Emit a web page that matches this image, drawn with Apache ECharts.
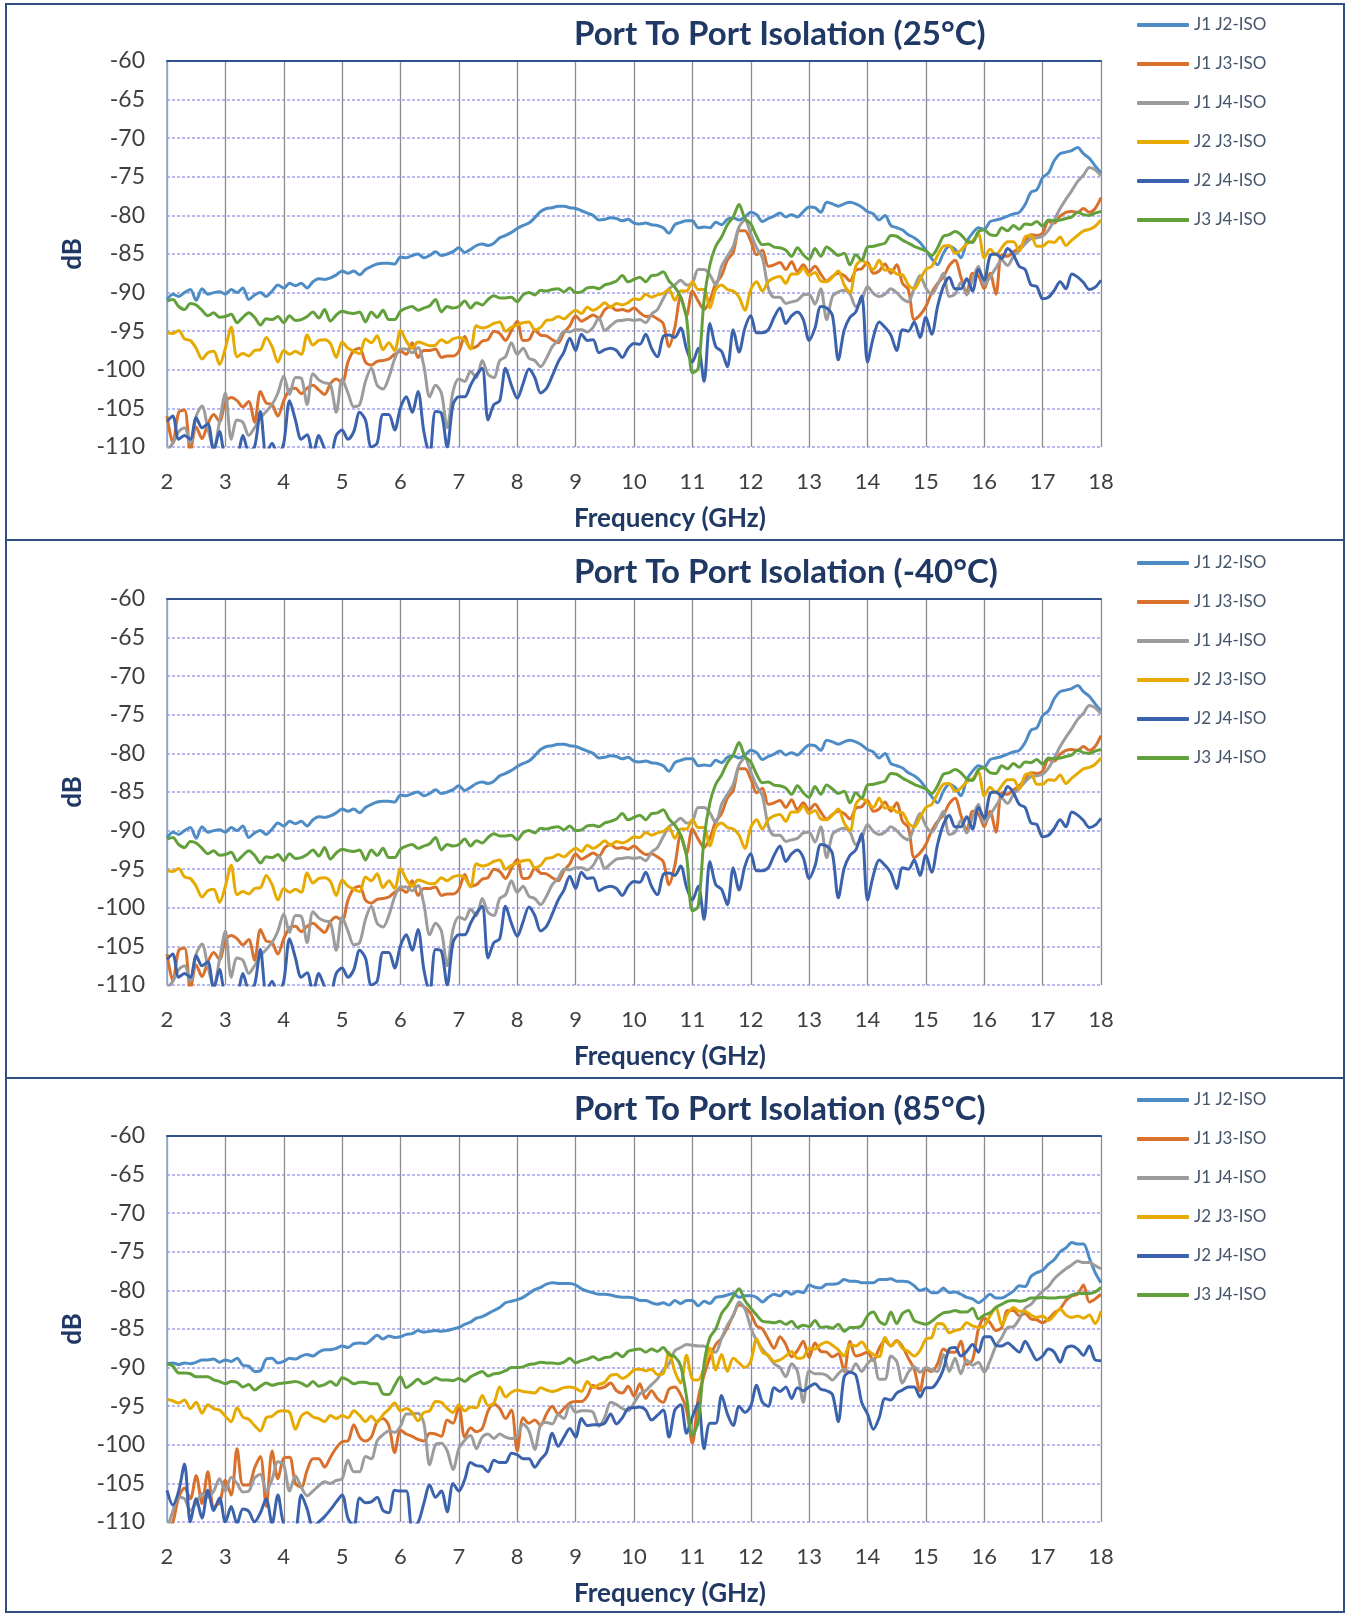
<!DOCTYPE html>
<html>
<head>
<meta charset="utf-8">
<title>Port To Port Isolation</title>
<script src="https://cdn.jsdelivr.net/npm/echarts@6/dist/echarts.min.js"></script>
<style>
  html, body { margin: 0; padding: 0; background: #ffffff; }
  #chart { width: 1345px; height: 1614px; }
</style>
</head>
<body>
<div id="chart"></div>
<script>
// frequency sweep 2 - 18 GHz, one reading every 0.1 GHz (161 points per trace)
const freqStart = 2;
const freqStep = 0.1;

const xTicks = [2, 3, 4, 5, 6, 7, 8, 9, 10, 11, 12, 13, 14, 15, 16, 17, 18];
const yTicks = [-110, -105, -100, -95, -90, -85, -80, -75, -70, -65, -60];

const seriesNames = ['J1 J2-ISO', 'J1 J3-ISO', 'J1 J4-ISO', 'J2 J3-ISO', 'J2 J4-ISO', 'J3 J4-ISO'];
const panelTitles = [
    'Port To Port Isolation (25°C)',
    'Port To Port Isolation (-40°C)',
    'Port To Port Isolation (85°C)'
];

// ---- 25°C ----
const j1j2_25 = [
    -90.9,-90.2,-90.5,-90.0,-89.6,-91.0,-89.5,-90.2,-90.0,-89.9,
    -90.2,-89.6,-90.0,-89.4,-90.9,-90.3,-90.0,-90.5,-89.8,-89.0,
    -89.4,-88.8,-89.1,-88.8,-89.4,-88.6,-88.2,-88.3,-88.1,-87.7,
    -87.2,-87.5,-87.2,-87.7,-87.0,-86.6,-86.3,-86.2,-86.2,-86.3,
    -85.4,-85.5,-85.2,-85.0,-85.5,-85.2,-84.7,-85.2,-85.0,-84.7,
    -84.2,-84.8,-84.4,-83.9,-83.7,-83.9,-83.6,-82.9,-82.6,-82.2,
    -81.7,-81.3,-81.0,-80.3,-79.5,-79.1,-79.0,-78.8,-78.8,-79.0,
    -79.1,-79.4,-79.7,-80.0,-80.6,-80.5,-80.3,-80.4,-80.7,-80.5,
    -81.0,-81.1,-81.0,-81.2,-81.3,-81.6,-82.3,-81.2,-80.9,-80.7,
    -80.7,-81.6,-81.5,-81.6,-80.9,-81.2,-80.5,-80.3,-80.6,-80.2,
    -79.6,-79.9,-80.8,-80.4,-80.1,-79.7,-80.2,-79.9,-80.2,-79.5,
    -78.9,-79.0,-79.6,-78.3,-78.5,-78.8,-78.5,-78.3,-78.5,-78.9,
    -79.5,-79.8,-80.6,-80.0,-81.3,-81.6,-81.9,-82.5,-82.9,-83.5,
    -84.5,-85.6,-86.4,-84.9,-84.0,-84.4,-85.5,-83.4,-82.3,-81.6,
    -81.8,-80.8,-80.6,-80.4,-80.1,-79.8,-79.6,-78.6,-77.0,-76.7,
    -75.1,-74.5,-72.9,-72.0,-71.8,-71.6,-71.2,-72.0,-72.6,-73.6,
    -74.5
];
const j1j3_25 = [
    -106.0,-109.5,-105.5,-105.2,-110.5,-107.4,-108.9,-107.0,-105.8,-106.7,
    -104.2,-103.6,-104.0,-104.8,-104.1,-106.8,-102.8,-104.3,-104.5,-106.0,
    -104.0,-102.6,-102.4,-103.1,-102.4,-102.0,-102.6,-103.2,-101.8,-101.2,
    -101.7,-99.0,-97.5,-97.2,-99.0,-99.4,-98.9,-98.8,-98.6,-98.0,
    -97.6,-98.0,-96.5,-98.4,-97.5,-97.5,-97.3,-98.4,-98.2,-98.2,
    -97.6,-95.7,-97.2,-97.0,-96.3,-96.1,-95.0,-95.3,-96.2,-94.9,
    -93.7,-96.2,-96.1,-94.9,-95.5,-95.6,-96.1,-96.5,-95.2,-94.3,
    -93.0,-93.7,-93.3,-92.9,-93.3,-92.2,-91.8,-92.3,-92.2,-92.4,
    -92.0,-92.6,-93.1,-93.0,-93.4,-94.0,-97.0,-94.5,-90.5,-93.0,
    -89.8,-91.1,-92.2,-91.0,-88.8,-87.8,-85.8,-84.8,-82.0,-82.0,
    -83.3,-85.1,-84.5,-86.6,-86.4,-86.1,-87.0,-86.0,-87.3,-86.4,
    -87.3,-86.6,-87.6,-88.5,-87.9,-87.5,-87.8,-88.5,-87.1,-86.9,
    -86.1,-87.5,-87.2,-86.3,-87.5,-86.4,-88.8,-89.6,-93.5,-92.9,
    -91.8,-90.0,-88.8,-88.0,-86.5,-85.8,-88.0,-90.0,-87.5,-87.8,
    -89.5,-87.5,-90.2,-85.1,-85.3,-84.7,-84.2,-83.3,-82.5,-82.6,
    -82.3,-80.8,-81.0,-80.1,-79.6,-79.5,-79.6,-79.1,-79.6,-79.1,
    -77.7
];
const j1j4_25 = [
    -110.5,-109.5,-108.0,-107.5,-109.5,-106.0,-104.7,-107.6,-110.2,-106.7,
    -103.0,-109.0,-106.5,-106.8,-108.5,-107.5,-106.2,-105.4,-104.5,-103.0,
    -100.8,-103.2,-101.0,-101.1,-104.5,-100.5,-101.3,-101.7,-101.9,-105.5,
    -101.2,-103.0,-104.8,-104.5,-101.5,-99.8,-102.0,-102.5,-101.0,-98.6,
    -97.3,-97.3,-97.8,-97.1,-99.5,-103.5,-102.0,-103.0,-107.5,-102.8,
    -101.2,-101.5,-100.2,-101.0,-98.8,-100.6,-101.0,-98.8,-98.3,-96.5,
    -98.0,-97.2,-98.5,-98.8,-99.6,-98.5,-97.0,-96.2,-95.0,-95.1,
    -94.8,-94.8,-95.1,-94.5,-93.3,-94.9,-94.3,-93.7,-93.6,-93.5,
    -93.6,-93.5,-93.9,-92.8,-92.2,-90.8,-89.5,-89.0,-88.4,-89.0,
    -88.8,-87.0,-87.0,-87.7,-89.0,-86.6,-85.3,-84.0,-81.5,-80.6,
    -82.4,-84.2,-85.5,-89.4,-90.6,-90.6,-91.4,-91.2,-91.0,-90.3,
    -90.2,-91.5,-89.5,-93.5,-90.5,-89.9,-89.7,-90.2,-91.8,-91.0,
    -89.2,-90.1,-90.5,-90.2,-89.5,-90.0,-90.8,-91.2,-89.4,-87.8,
    -89.4,-90.2,-89.0,-87.5,-90.5,-90.2,-88.7,-90.3,-88.3,-86.6,
    -89.0,-88.0,-86.8,-85.8,-86.5,-85.3,-84.5,-83.7,-83.0,-82.9,
    -82.7,-81.9,-80.6,-79.1,-77.9,-76.8,-75.6,-74.8,-73.8,-74.1,
    -74.9
];
const j2j3_25 = [
    -95.2,-95.3,-94.9,-96.0,-96.2,-97.2,-98.6,-97.8,-97.6,-99.3,
    -97.2,-94.5,-98.3,-97.9,-98.2,-97.5,-97.4,-95.8,-97.0,-99.0,
    -97.5,-98.0,-97.6,-98.0,-95.5,-96.8,-96.2,-96.1,-96.6,-98.4,
    -96.4,-97.2,-97.6,-97.9,-96.0,-96.5,-95.6,-97.4,-96.5,-97.5,
    -94.9,-96.3,-97.2,-96.4,-96.6,-96.9,-96.8,-96.1,-96.5,-96.0,
    -95.8,-96.1,-97.3,-94.3,-94.6,-94.4,-94.0,-93.8,-95.0,-94.5,
    -94.2,-93.9,-93.8,-94.8,-94.5,-93.6,-93.5,-93.1,-93.4,-92.8,
    -92.3,-92.7,-91.9,-92.3,-91.9,-91.3,-91.9,-91.4,-91.6,-91.3,
    -90.8,-90.9,-90.2,-90.6,-90.3,-90.1,-89.6,-91.0,-89.8,-89.8,
    -88.6,-89.6,-89.6,-92.0,-89.6,-89.0,-89.6,-89.8,-90.6,-92.3,
    -89.6,-88.6,-89.8,-88.6,-88.1,-87.9,-88.8,-87.6,-87.6,-86.8,
    -87.8,-87.4,-88.5,-88.6,-88.0,-87.2,-89.0,-90.0,-86.6,-85.8,
    -86.4,-87.0,-85.8,-87.1,-87.0,-87.6,-87.7,-89.0,-89.5,-88.3,
    -87.0,-86.6,-85.2,-84.0,-83.9,-84.9,-84.5,-83.7,-83.3,-82.4,
    -85.5,-84.4,-85.1,-84.2,-83.4,-83.4,-84.6,-82.8,-82.6,-84.0,
    -84.0,-83.4,-83.5,-82.8,-83.9,-83.2,-82.6,-82.0,-81.8,-81.4,
    -80.6
];
const j2j4_25 = [
    -106.7,-106.0,-109.0,-108.5,-109.0,-106.2,-107.5,-107.0,-110.5,-108.0,
    -111.0,-110.5,-111.0,-108.5,-110.5,-110.0,-105.4,-111.0,-109.5,-111.0,
    -109.5,-104.0,-106.5,-109.0,-108.4,-111.0,-108.5,-110.2,-111.0,-108.5,
    -107.8,-109.0,-108.0,-105.5,-106.5,-110.0,-109.5,-105.8,-105.8,-107.8,
    -104.9,-103.5,-105.5,-102.8,-108.0,-111.0,-105.4,-105.6,-110.0,-104.5,
    -103.5,-103.5,-102.0,-100.7,-99.8,-106.5,-104.5,-104.0,-99.8,-102.0,
    -103.7,-101.8,-99.9,-101.0,-103.0,-102.4,-100.8,-99.0,-97.7,-95.9,
    -97.5,-95.4,-96.2,-96.1,-97.8,-97.4,-97.2,-97.5,-98.4,-97.2,
    -96.6,-96.7,-95.4,-97.2,-98.3,-95.7,-95.5,-95.8,-94.6,-97.3,
    -99.0,-97.2,-101.5,-94.0,-97.0,-97.6,-99.6,-94.8,-97.7,-94.6,
    -93.0,-95.2,-95.2,-94.8,-93.2,-92.0,-94.0,-93.0,-92.5,-93.5,
    -96.2,-94.6,-91.8,-92.0,-93.0,-98.7,-94.9,-93.2,-92.5,-90.4,
    -99.0,-95.8,-93.8,-94.5,-95.5,-97.5,-94.8,-95.0,-93.8,-95.8,
    -93.2,-95.4,-91.8,-89.2,-88.0,-89.5,-89.5,-88.2,-89.8,-87.0,
    -88.4,-85.2,-85.0,-85.6,-84.3,-85.1,-86.6,-87.0,-89.0,-89.2,
    -90.8,-90.6,-89.7,-88.6,-89.5,-87.6,-88.0,-88.7,-89.6,-89.3,
    -88.4
];
const j3j4_25 = [
    -91.1,-90.9,-91.8,-92.2,-91.4,-91.6,-92.3,-93.0,-92.6,-93.2,
    -93.1,-92.8,-93.9,-93.2,-92.6,-93.2,-94.2,-93.4,-93.5,-93.1,
    -93.9,-93.0,-93.6,-93.5,-93.1,-92.5,-93.3,-92.2,-93.7,-92.9,
    -92.4,-92.6,-92.7,-92.5,-93.8,-92.5,-93.2,-92.3,-93.5,-93.5,
    -92.4,-92.0,-91.8,-92.3,-92.0,-91.7,-90.9,-92.5,-91.8,-92.0,
    -91.8,-91.1,-92.0,-91.3,-91.6,-90.9,-90.4,-90.7,-90.7,-90.6,
    -91.2,-90.3,-90.0,-90.3,-89.7,-89.8,-89.6,-89.5,-89.9,-89.4,
    -90.0,-89.9,-89.4,-89.3,-89.5,-89.0,-88.8,-88.5,-87.8,-88.6,
    -88.3,-88.0,-88.6,-87.8,-87.7,-87.3,-88.5,-89.3,-90.6,-93.3,
    -100.4,-99.8,-91.0,-86.4,-84.0,-82.8,-81.2,-80.2,-78.6,-80.4,
    -81.1,-82.7,-83.8,-83.7,-84.1,-84.2,-84.5,-85.3,-84.2,-85.1,
    -85.7,-84.3,-85.3,-84.1,-84.6,-85.2,-84.9,-86.4,-85.1,-85.8,
    -84.1,-84.0,-83.8,-83.6,-82.6,-82.7,-83.2,-83.6,-84.0,-84.3,
    -84.6,-85.2,-84.2,-82.7,-82.5,-82.1,-82.5,-83.3,-83.5,-82.1,
    -81.9,-82.5,-82.6,-81.6,-82.0,-81.3,-81.8,-81.1,-81.2,-80.8,
    -81.4,-80.6,-80.7,-80.6,-80.4,-80.2,-79.6,-79.9,-80.0,-79.7,
    -79.5
];

// ---- -40°C : the published sweep plots on top of the 25°C traces ----
const j1j2_m40 = j1j2_25;
const j1j3_m40 = j1j3_25;
const j1j4_m40 = j1j4_25;
const j2j3_m40 = j2j3_25;
const j2j4_m40 = j2j4_25;
const j3j4_m40 = j3j4_25;

// ---- 85°C ----
const j1j2_85 = [
    -89.5,-89.4,-89.6,-89.4,-89.5,-89.3,-89.0,-89.0,-88.9,-89.3,
    -89.0,-89.2,-88.8,-89.7,-89.8,-90.5,-90.4,-88.9,-88.8,-89.4,
    -89.2,-88.8,-88.9,-88.5,-88.3,-88.5,-88.0,-87.7,-87.7,-87.5,
    -87.2,-87.4,-86.9,-86.8,-86.9,-86.4,-85.8,-86.3,-85.9,-86.1,
    -86.0,-85.7,-85.6,-85.2,-85.4,-85.3,-85.2,-85.3,-85.2,-85.0,
    -84.8,-84.4,-84.1,-83.6,-83.4,-83.0,-82.6,-82.2,-81.6,-81.4,
    -81.2,-80.9,-80.4,-79.9,-79.6,-79.2,-79.0,-79.1,-79.1,-79.1,
    -79.3,-79.8,-80.1,-80.3,-80.5,-80.5,-80.6,-80.8,-80.9,-80.9,
    -81.0,-81.3,-81.3,-81.6,-81.8,-81.6,-81.9,-81.3,-81.7,-81.3,
    -81.3,-82.0,-81.4,-81.7,-80.9,-80.8,-80.6,-80.4,-80.9,-80.7,
    -80.7,-80.9,-81.5,-80.9,-80.5,-80.7,-80.1,-80.5,-80.1,-80.3,
    -79.3,-79.6,-79.7,-79.2,-79.2,-79.1,-78.6,-78.8,-78.8,-79.0,
    -79.0,-79.0,-78.6,-78.6,-78.5,-78.8,-78.8,-78.9,-79.4,-80.0,
    -79.8,-80.3,-80.3,-79.7,-80.3,-80.2,-80.5,-80.9,-81.1,-81.6,
    -81.1,-80.5,-81.0,-81.0,-80.6,-80.1,-79.4,-79.5,-78.2,-77.7,
    -77.4,-76.6,-76.0,-75.0,-74.5,-73.8,-74.0,-74.0,-75.8,-77.7,
    -79.0
];
const j1j3_85 = [
    -111.0,-110.0,-106.8,-105.6,-107.0,-104.0,-107.6,-103.5,-108.0,-107.5,
    -104.6,-106.5,-100.5,-105.2,-105.2,-103.0,-101.5,-108.0,-100.8,-104.4,
    -101.7,-101.6,-105.0,-105.5,-103.3,-101.8,-101.8,-102.9,-101.6,-100.4,
    -99.6,-99.5,-97.4,-99.0,-99.5,-99.0,-97.0,-96.6,-97.5,-101.0,
    -98.1,-98.6,-98.9,-99.3,-99.5,-98.5,-98.6,-98.9,-96.8,-97.2,
    -95.0,-99.0,-97.8,-98.3,-97.9,-95.6,-94.7,-95.3,-96.6,-95.5,
    -100.8,-96.5,-97.2,-96.8,-97.5,-96.0,-95.0,-96.0,-95.3,-94.6,
    -94.4,-94.4,-93.7,-92.3,-92.7,-92.5,-92.0,-93.0,-93.3,-92.4,
    -93.7,-92.1,-94.0,-93.0,-94.0,-94.5,-92.8,-92.5,-93.5,-95.5,
    -99.8,-94.0,-91.0,-88.7,-87.0,-86.2,-84.8,-83.2,-81.9,-82.2,
    -83.0,-84.6,-85.0,-86.3,-87.5,-86.0,-87.0,-88.6,-87.8,-86.6,
    -88.7,-86.8,-87.9,-88.0,-88.6,-88.2,-90.5,-86.6,-88.5,-88.3,
    -88.0,-89.1,-87.5,-86.5,-87.2,-86.5,-87.3,-88.8,-90.2,-93.0,
    -90.2,-90.5,-89.5,-87.6,-88.0,-88.0,-86.6,-89.6,-89.0,-85.0,
    -83.6,-84.2,-85.2,-84.8,-82.6,-82.6,-83.3,-83.0,-83.7,-83.8,
    -84.2,-83.7,-82.9,-82.4,-81.3,-80.7,-80.5,-79.3,-81.5,-81.1,
    -80.5
];
const j1j4_85 = [
    -111.0,-108.6,-106.8,-107.0,-108.5,-107.6,-106.3,-106.8,-106.0,-104.4,
    -106.0,-104.2,-105.0,-106.1,-106.0,-104.3,-103.8,-106.0,-104.5,-102.2,
    -102.6,-106.0,-104.0,-105.5,-106.6,-106.0,-105.3,-104.8,-105.0,-104.6,
    -104.4,-102.0,-103.5,-103.5,-101.5,-101.8,-99.5,-98.7,-98.2,-98.4,
    -97.6,-96.0,-96.0,-95.9,-97.2,-102.6,-100.0,-99.8,-100.8,-103.2,
    -100.5,-99.4,-98.8,-100.5,-99.0,-98.6,-99.2,-98.6,-99.0,-99.2,
    -98.9,-97.3,-98.2,-100.6,-97.4,-97.1,-97.3,-96.1,-96.6,-94.8,
    -95.8,-95.6,-95.6,-95.8,-97.6,-96.4,-94.5,-94.8,-95.3,-95.6,
    -94.6,-93.4,-93.0,-92.2,-91.5,-90.3,-89.5,-87.8,-87.4,-87.0,
    -87.1,-87.2,-87.2,-87.8,-88.0,-86.2,-84.5,-83.3,-81.5,-82.4,
    -84.8,-86.5,-87.6,-88.5,-89.5,-90.0,-91.2,-89.5,-90.5,-94.5,
    -90.4,-90.8,-90.8,-91.0,-91.6,-90.8,-90.2,-90.6,-89.5,-90.5,
    -89.5,-88.9,-91.5,-91.5,-88.5,-89.2,-92.0,-90.6,-89.9,-90.6,
    -90.0,-90.3,-90.5,-88.3,-90.5,-88.8,-90.8,-89.0,-89.7,-89.3,
    -90.6,-89.1,-87.2,-86.1,-84.8,-84.7,-83.7,-82.3,-81.8,-80.9,
    -80.1,-79.5,-78.5,-77.8,-77.2,-76.7,-76.2,-76.4,-76.4,-76.8,
    -77.2
];
const j2j3_85 = [
    -94.1,-94.3,-94.6,-94.2,-95.3,-94.5,-95.9,-94.8,-95.3,-95.5,
    -96.3,-97.0,-95.2,-96.4,-96.7,-97.5,-98.2,-96.5,-96.3,-95.7,
    -95.6,-95.8,-98.0,-96.3,-95.8,-96.4,-96.6,-97.0,-96.2,-96.6,
    -96.2,-96.5,-95.6,-96.2,-97.0,-96.3,-97.1,-96.1,-95.4,-94.6,
    -95.6,-95.3,-95.8,-96.9,-95.8,-95.6,-94.4,-94.5,-95.3,-95.8,
    -94.8,-95.6,-95.1,-95.2,-93.6,-94.9,-94.6,-92.5,-93.8,-93.2,
    -92.9,-93.1,-93.2,-93.3,-92.6,-92.9,-93.1,-92.9,-92.6,-92.5,
    -92.7,-93.1,-91.8,-92.6,-92.2,-91.9,-91.0,-90.9,-91.4,-91.0,
    -90.3,-90.2,-90.4,-90.2,-90.9,-90.8,-88.0,-90.5,-92.0,-88.4,
    -91.5,-91.6,-90.0,-87.5,-90.3,-88.3,-90.5,-88.8,-89.4,-90.0,
    -89.2,-86.3,-88.0,-88.4,-89.2,-89.0,-88.5,-87.9,-88.8,-88.7,
    -87.5,-87.6,-87.0,-86.7,-87.1,-87.7,-88.5,-87.0,-87.2,-86.7,
    -87.7,-88.3,-88.6,-86.1,-87.2,-86.6,-87.5,-87.9,-88.5,-87.8,
    -86.3,-86.1,-84.3,-84.4,-85.5,-85.2,-85.0,-84.2,-84.6,-84.8,
    -84.6,-83.3,-82.2,-84.5,-83.0,-82.2,-82.7,-82.7,-83.2,-83.5,
    -83.3,-83.9,-83.2,-82.4,-83.2,-83.5,-83.3,-83.6,-83.2,-84.3,
    -82.7
];
const j2j4_85 = [
    -105.9,-107.8,-106.0,-102.5,-110.0,-107.0,-109.5,-105.9,-108.5,-106.9,
    -110.0,-108.0,-110.2,-108.3,-108.6,-110.0,-108.8,-107.0,-110.2,-106.5,
    -110.3,-110.6,-110.6,-106.5,-108.3,-110.6,-110.0,-109.3,-108.4,-107.4,
    -106.5,-109.5,-110.6,-106.9,-107.5,-107.4,-106.8,-108.5,-108.8,-105.9,
    -106.0,-106.0,-110.6,-110.1,-107.6,-105.2,-106.8,-106.0,-108.7,-105.0,
    -106.0,-104.5,-102.3,-102.7,-102.8,-103.5,-102.0,-102.3,-102.3,-101.1,
    -101.3,-101.8,-101.8,-102.9,-101.9,-101.0,-98.5,-100.2,-99.0,-97.9,
    -99.0,-96.6,-97.5,-97.4,-97.4,-97.2,-96.0,-97.3,-96.5,-95.3,
    -95.2,-95.1,-95.5,-96.8,-96.2,-95.5,-99.0,-95.5,-94.8,-98.5,
    -96.4,-94.6,-100.5,-97.2,-97.2,-93.6,-96.0,-97.5,-95.0,-95.8,
    -95.0,-92.3,-94.5,-95.0,-92.6,-93.1,-92.5,-94.0,-92.6,-93.0,
    -92.5,-92.1,-92.8,-93.0,-93.5,-97.0,-91.2,-90.6,-91.0,-94.5,
    -96.0,-98.0,-96.5,-94.0,-94.2,-93.3,-92.9,-92.5,-92.5,-93.8,
    -92.6,-92.6,-91.8,-90.2,-87.6,-87.4,-88.5,-87.9,-87.0,-88.0,
    -86.0,-86.0,-87.1,-87.2,-86.8,-87.4,-88.0,-86.6,-87.8,-89.0,
    -88.5,-87.6,-88.0,-89.3,-87.5,-87.2,-87.6,-88.4,-87.2,-89.0,
    -89.1
];
const j3j4_85 = [
    -89.5,-89.8,-90.7,-90.7,-90.8,-91.2,-91.2,-91.2,-91.6,-91.8,
    -92.1,-91.8,-91.9,-92.5,-92.2,-92.9,-92.4,-92.0,-92.3,-92.1,
    -92.0,-91.9,-91.8,-92.0,-92.4,-91.8,-92.4,-92.2,-91.8,-92.3,
    -91.3,-91.6,-92.1,-91.9,-91.9,-92.1,-92.1,-93.4,-93.5,-92.3,
    -91.2,-92.6,-92.1,-91.5,-92.1,-91.8,-91.3,-91.6,-91.6,-91.7,
    -91.4,-91.8,-91.2,-90.8,-90.5,-91.1,-90.8,-90.7,-90.4,-90.0,
    -90.0,-89.9,-89.6,-89.5,-89.3,-89.4,-89.4,-89.5,-89.3,-88.8,
    -89.4,-89.1,-88.9,-88.6,-89.0,-88.7,-88.6,-88.1,-88.6,-87.9,
    -87.7,-87.6,-88.0,-87.6,-87.9,-87.4,-88.3,-88.6,-89.8,-93.8,
    -98.8,-97.0,-89.5,-86.1,-85.0,-83.0,-82.0,-80.8,-79.8,-81.3,
    -82.3,-83.2,-84.0,-84.1,-84.2,-84.0,-84.4,-84.0,-84.8,-84.5,
    -84.7,-83.9,-84.8,-84.7,-84.9,-84.4,-85.3,-84.8,-84.8,-84.6,
    -83.3,-82.8,-84.0,-84.4,-82.8,-84.3,-83.0,-82.6,-83.9,-84.2,
    -84.4,-84.0,-83.4,-82.9,-82.8,-82.6,-82.8,-82.8,-82.3,-83.7,
    -83.2,-82.9,-82.2,-81.8,-81.4,-81.3,-81.4,-81.3,-81.0,-81.0,
    -80.9,-81.0,-81.0,-80.9,-80.9,-80.6,-80.4,-80.4,-80.4,-80.2,
    -79.6
];

const panelData = [
    [j1j2_25, j1j3_25, j1j4_25, j2j3_25, j2j4_25, j3j4_25],
    [j1j2_m40, j1j3_m40, j1j4_m40, j2j3_m40, j2j4_m40, j3j4_m40],
    [j1j2_85, j1j3_85, j1j4_85, j2j3_85, j2j4_85, j3j4_85]
];

// ---- look ----
const seriesColors = ['#4E8CC6', '#D9712D', '#9C9C9C', '#E6AA00', '#3A62AD', '#62A03C'];
const fontFamily = 'Lato, "Noto Sans", sans-serif';
const navy = '#1F3864';
const labelGrey = '#3F3F3F';

const panelTops = [61, 599, 1136];     // plot area top of each panel
const frameTops = [4, 540, 1078];      // outer box of each panel
const frameBottoms = [540, 1078, 1612];

const chart = echarts.init(document.getElementById('chart'));

const grids = [];
const xAxes = [];
const yAxes = [];
const titles = [];
const legends = [];
const series = [];

panelTops.forEach((top, p) => {
    grids.push({ left: 167, top: top, width: 934, height: 386 });

    xAxes.push({
        type: 'value',
        gridIndex: p,
        min: xTicks[0],
        max: xTicks[xTicks.length - 1],
        interval: 1,
        name: 'Frequency (GHz)',
        nameLocation: 'middle',
        nameGap: 59,
        nameTextStyle: {
            color: navy, fontSize: 26, fontWeight: 'bold', fontFamily: fontFamily,
            padding: [0, 0, 0, 72]
        },
        axisLine: { show: false },
        axisTick: { show: false },
        axisLabel: { color: labelGrey, fontSize: 22, margin: 24, fontFamily: fontFamily },
        splitLine: { show: true, lineStyle: { color: '#8C8C8C', width: 1.3 } }
    });

    yAxes.push({
        type: 'value',
        gridIndex: p,
        min: yTicks[0],
        max: yTicks[yTicks.length - 1],
        interval: 5,
        name: 'dB',
        nameLocation: 'middle',
        nameGap: 80,
        nameTextStyle: { color: navy, fontSize: 26, fontWeight: 'bold', fontFamily: fontFamily },
        axisLine: { show: true, onZero: false, lineStyle: { color: '#8EA9DB', width: 1.5 } },
        axisTick: { show: false },
        axisLabel: { color: labelGrey, fontSize: 23, margin: 22, fontFamily: fontFamily },
        splitLine: { show: true, lineStyle: { color: '#A0A0F0', width: 1.5, type: [3, 2] } }
    });

    titles.push({
        text: panelTitles[p],
        left: 574,
        top: top - 43,
        textAlign: 'left',
        padding: 0,
        textStyle: { color: navy, fontSize: 33, fontWeight: 'bold', fontFamily: fontFamily }
    });

    legends.push({
        orient: 'vertical',
        left: 1137,
        top: top - 46,
        padding: 0,
        itemWidth: 52,
        itemHeight: 4,
        itemGap: 19,
        icon: 'roundRect',
        selectedMode: false,
        data: seriesNames,
        textStyle: { color: '#44546A', fontSize: 17, lineHeight: 20, fontFamily: fontFamily }
    });

    panelData[p].forEach((vals, k) => {
        series.push({
            name: seriesNames[k],
            type: 'line',
            xAxisIndex: p,
            yAxisIndex: p,
            data: vals.map((v, i) => [+(freqStart + i * freqStep).toFixed(1), v]),
            showSymbol: false,
            smooth: 0.3,
            clip: true,
            lineStyle: { color: seriesColors[k], width: 3 },
            itemStyle: { color: seriesColors[k] },
            emphasis: { disabled: true }
        });
    });
});

// dark line along the top of each plot area
panelTops.forEach((top, p) => {
    xAxes.push({
        type: 'value',
        gridIndex: p,
        position: 'top',
        min: xTicks[0],
        max: xTicks[xTicks.length - 1],
        axisLine: { show: true, onZero: false, lineStyle: { color: '#2F528F', width: 2 } },
        axisTick: { show: false },
        axisLabel: { show: false },
        splitLine: { show: false }
    });
});

chart.setOption({
    animation: false,
    backgroundColor: '#ffffff',
    title: titles,
    legend: legends,
    grid: grids,
    xAxis: xAxes,
    yAxis: yAxes,
    series: series,
    graphic: frameTops.map((t, i) => ({
        type: 'rect',
        silent: true,
        z: -1,
        shape: { x: 6, y: t, width: 1338, height: frameBottoms[i] - t },
        style: { fill: 'none', stroke: '#2F4F86', lineWidth: 2 }
    }))
});
</script>
</body>
</html>
